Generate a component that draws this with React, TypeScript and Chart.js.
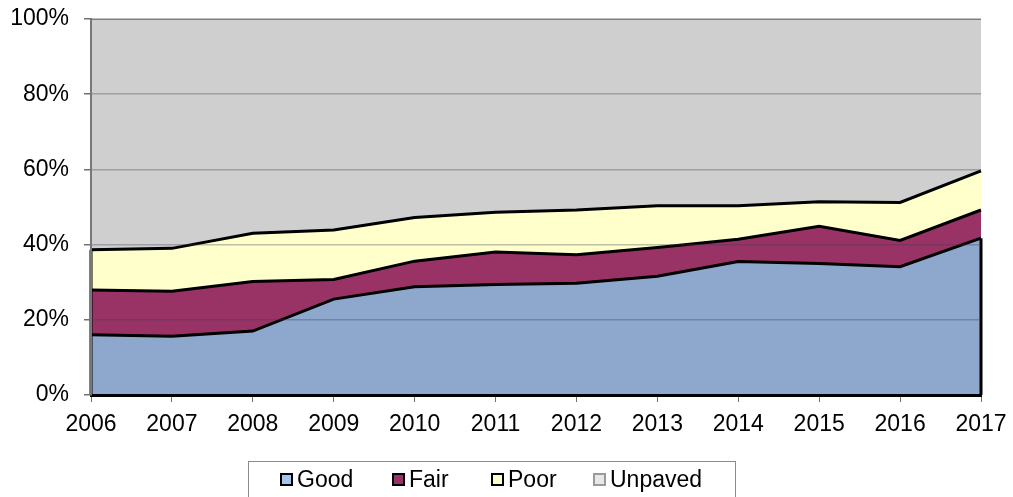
import React, { useEffect, useRef } from "react";
import { Chart, registerables } from "chart.js";

Chart.register(...registerables);

const years = ["2006", "2007", "2008", "2009", "2010", "2011", "2012", "2013", "2014", "2015", "2016", "2017"];
const good = [16.0, 15.6, 17.0, 25.5, 28.8, 29.4, 29.7, 31.6, 35.5, 35.0, 34.1, 41.7];
const fair = [11.9, 12.0, 13.2, 5.2, 6.8, 8.6, 7.6, 7.6, 5.9, 9.9, 7.0, 7.5];
const poor = [10.7, 11.4, 12.8, 13.2, 11.6, 10.6, 11.9, 11.1, 8.9, 6.5, 10.1, 10.4];
const unpaved = [61.4, 61.0, 57.0, 56.1, 52.8, 51.4, 50.8, 49.7, 49.7, 48.6, 48.8, 40.4];
const seriesNames = ["Good", "Fair", "Poor", "Unpaved"];

const FONT = "'Liberation Sans', Arial, sans-serif";

const legendStyles = [
  { fill: "#A4C6EC", stroke: "#000000", textX: 297, boxX: 281 },
  { fill: "#993366", stroke: "#000000", textX: 409, boxX: 393 },
  { fill: "#FFFFCC", stroke: "#000000", textX: 508, boxX: 492 },
  { fill: "#E8E8E8", stroke: "#9a9a9a", textX: 610, boxX: 594 },
];

const edgePlugin = {
  id: "edgeLines",
  afterDatasetsDraw(chart: any) {
    const ctx = chart.ctx;
    const area = chart.chartArea;
    const poorMeta = chart.getDatasetMeta(2);
    const goodMeta = chart.getDatasetMeta(0);
    const p0 = poorMeta.data[0];
    const gl = goodMeta.data[goodMeta.data.length - 1];
    ctx.save();
    ctx.strokeStyle = "#000";
    ctx.lineWidth = 3;
    ctx.beginPath();
    ctx.moveTo(area.left, area.bottom);
    ctx.lineTo(area.left, p0.y);
    ctx.moveTo(area.right, area.bottom);
    ctx.lineTo(area.right, gl.y);
    ctx.stroke();
    ctx.restore();
  },
};

const legendPlugin = {
  id: "boxLegend",
  afterDraw(chart: any) {
    const ctx = chart.ctx;
    ctx.save();
    ctx.strokeStyle = "#8c8c8c";
    ctx.lineWidth = 1;
    ctx.strokeRect(248.5, 461.5, 487, 60);
    ctx.font = `23px ${FONT}`;
    ctx.textBaseline = "middle";
    ctx.textAlign = "left";
    seriesNames.forEach((name, i) => {
      const s = legendStyles[i];
      ctx.fillStyle = s.fill;
      ctx.fillRect(s.boxX, 474, 11, 11);
      ctx.strokeStyle = s.stroke;
      ctx.lineWidth = 2;
      ctx.strokeRect(s.boxX, 474, 11, 11);
      ctx.fillStyle = "#000";
      ctx.fillText(name, s.textX, 481);
    });
    ctx.restore();
  },
};

export default function App() {
  const ref = useRef<HTMLCanvasElement | null>(null);

  useEffect(() => {
    document.body.style.margin = "0";
    const canvas = ref.current;
    if (!canvas) return;
    const chart = new Chart(canvas, {
      type: "line",
      data: {
        labels: years,
        datasets: [
          { label: seriesNames[0], data: good, backgroundColor: "#8DA8CC", borderColor: "#000", borderWidth: 3, fill: "origin", pointRadius: 0, tension: 0 },
          { label: seriesNames[1], data: fair, backgroundColor: "#993366", borderColor: "#000", borderWidth: 3, fill: "-1", pointRadius: 0, tension: 0 },
          { label: seriesNames[2], data: poor, backgroundColor: "#FFFFCC", borderColor: "#000", borderWidth: 3, fill: "-1", pointRadius: 0, tension: 0 },
          { label: seriesNames[3], data: unpaved, backgroundColor: "#CFCFCF", borderColor: "#8a8a8a", borderWidth: 2, fill: "-1", pointRadius: 0, tension: 0 },
        ],
      },
      options: {
        responsive: false,
        animation: false,
        layout: { padding: { left: 0, right: 32, top: 19, bottom: 37 } },
        plugins: {
          legend: { display: false },
          tooltip: { enabled: false },
        },
        scales: {
          x: {
            offset: false,
            grid: {
              drawOnChartArea: false,
              drawTicks: true,
              tickLength: 7,
              tickColor: "#707070",
              lineWidth: 1,
            },
            border: { color: "#000", width: 3, z: 2 },
            ticks: {
              color: "#000",
              font: { family: FONT, size: 23 },
              padding: 9,
              maxRotation: 0,
              autoSkip: false,
            },
            afterFit(scale: any) {
              scale.height = 65;
              scale.paddingLeft = 0;
              scale.paddingRight = 0;
            },
          },
          y: {
            stacked: true,
            min: 0,
            max: 100,
            grid: {
              color: "rgba(60,60,80,0.33)",
              lineWidth: 1.5,
              z: 1,
              drawTicks: true,
              tickLength: 7,
              tickColor: "#707070",
            },
            border: { color: "#777", width: 2, z: 2 },
            ticks: {
              stepSize: 20,
              color: "#000",
              font: { family: FONT, size: 23 },
              padding: 15,
              callback: (v: any) => `${v}%`,
            },
            afterFit(scale: any) {
              scale.width = 91;
              scale.paddingTop = 0;
              scale.paddingBottom = 0;
            },
          },
        },
      },
      plugins: [edgePlugin, legendPlugin],
    });
    return () => chart.destroy();
  }, []);

  return (
    <div style={{ position: "absolute", left: 0, top: 0, width: 1013, height: 497, background: "#fff" }}>
      <canvas ref={ref} width={1013} height={497} style={{ display: "block" }} />
    </div>
  );
}
